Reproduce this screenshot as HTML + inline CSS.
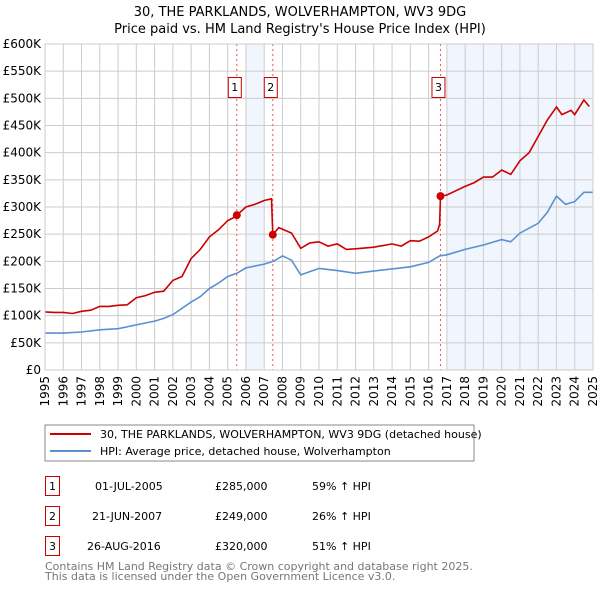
<!DOCTYPE html>
<html><head><meta charset="utf-8"><style>
body{margin:0;background:#fff;font-family:"DejaVu Sans","Liberation Sans",sans-serif;}
svg text{font-family:"DejaVu Sans","Liberation Sans",sans-serif;}
</style></head><body>
<svg id="c" width="600" height="590" viewBox="0 0 600 590" xmlns="http://www.w3.org/2000/svg">
<text x="300" y="16" text-anchor="middle" font-size="13">30, THE PARKLANDS, WOLVERHAMPTON, WV3 9DG</text>
<text x="300" y="33" text-anchor="middle" font-size="13">Price paid vs. HM Land Registry's House Price Index (HPI)</text>
<g id="plot"></g>
<g>
<rect x="45" y="425" width="429" height="36" fill="#fff" stroke="#888"/>
<line x1="50" y1="434" x2="91" y2="434" stroke="#cc0000" stroke-width="2"/>
<text x="100" y="438" font-size="11">30, THE PARKLANDS, WOLVERHAMPTON, WV3 9DG (detached house)</text>
<line x1="50" y1="451" x2="91" y2="451" stroke="#5b8fd4" stroke-width="2"/>
<text x="100" y="455" font-size="11">HPI: Average price, detached house, Wolverhampton</text>
</g>
<g font-size="11">
<rect x="45.5" y="476.5" width="14" height="19" fill="#fff" stroke="#cc0000"/><text x="52.5" y="490" text-anchor="middle">1</text>
<text x="95" y="490">01-JUL-2005</text><text x="215" y="490">£285,000</text><text x="312" y="490">59% ↑ HPI</text>
<rect x="45.5" y="506.5" width="14" height="19" fill="#fff" stroke="#cc0000"/><text x="52.5" y="520" text-anchor="middle">2</text>
<text x="92" y="520">21-JUN-2007</text><text x="215" y="520">£249,000</text><text x="312" y="520">26% ↑ HPI</text>
<rect x="45.5" y="536.5" width="14" height="19" fill="#fff" stroke="#cc0000"/><text x="52.5" y="550" text-anchor="middle">3</text>
<text x="87" y="550">26-AUG-2016</text><text x="215" y="550">£320,000</text><text x="312" y="550">51% ↑ HPI</text>
</g>
<text x="45" y="570" font-size="11" fill="#777">Contains HM Land Registry data © Crown copyright and database right 2025.</text>
<text x="45" y="580" font-size="11" fill="#777">This data is licensed under the Open Government Licence v3.0.</text>
</svg>
<script>
const redYears=[1995,1995.5,1996,1996.5,1997,1997.5,1998,1998.5,1999,1999.5,2000,2000.5,2001,2001.5,2002,2002.5,2003,2003.5,2004,2004.5,2005,2005.3,2005.5,2006,2006.5,2007,2007.4,2007.47,2007.8,2008.5,2009,2009.5,2010,2010.5,2011,2011.5,2012,2013,2014,2014.5,2015,2015.5,2016,2016.5,2016.6,2016.65,2017,2017.5,2018,2018.5,2019,2019.5,2020,2020.5,2021,2021.5,2022,2022.5,2023,2023.3,2023.8,2024,2024.5,2024.8];
const redValues=[107,106,106,104,108,110,117,117,119,120,133,137,143,145,165,172,205,222,245,258,275,280,285,300,305,312,315,249,262,252,224,234,236,228,232,222,223,226,232,228,238,237,245,256,268,320,322,330,338,345,355,355,368,360,385,400,430,460,484,470,478,470,497,485];
const hpiYears=[1995,1996,1997,1998,1999,2000,2001,2001.5,2002,2003,2003.5,2004,2004.5,2005,2005.5,2006,2007,2007.5,2008,2008.5,2009,2010,2011,2012,2013,2014,2015,2016,2016.6,2017,2018,2019,2020,2020.5,2021,2022,2022.5,2023,2023.5,2024,2024.5,2025];
const hpiValues=[68,68,70,74,76,83,90,95,102,125,135,150,160,172,178,188,195,200,210,202,175,187,183,178,182,186,190,198,210,212,222,230,240,236,252,270,290,320,305,310,327,327];
const saleYears=[2005.5,2007.47,2016.65];
const saleValues=[285,249,320];
const saleLabels=["1","2","3"];
const yTicks=[0,50,100,150,200,250,300,350,400,450,500,550,600];
const yTickLabels=["£0","£50K","£100K","£150K","£200K","£250K","£300K","£350K","£400K","£450K","£500K","£550K","£600K"];
const xTicks=[1995,1996,1997,1998,1999,2000,2001,2002,2003,2004,2005,2006,2007,2008,2009,2010,2011,2012,2013,2014,2015,2016,2017,2018,2019,2020,2021,2022,2023,2024,2025];
const shadeRanges=[[2006,2007],[2017,2025]];

const L=45,R=593,T=44,B=370;
const sx=y=>L+(y-1995)/30*(R-L);
const sy=v=>B-v/600*(B-T);
const NS="http://www.w3.org/2000/svg";
const g=document.getElementById('plot');
function mk(tag,attrs,parent){const e=document.createElementNS(NS,tag);for(const k in attrs)e.setAttribute(k,attrs[k]);(parent||g).appendChild(e);return e;}
for(const r of shadeRanges){
 const e=mk('rect',{x:sx(r[0]),y:T,width:sx(r[1])-sx(r[0]),height:B-T,fill:'#eef3fc',opacity:0.8});
 
 
}
yTicks.forEach((v,i)=>{
 const l=mk('line',{x1:L,x2:R,y1:sy(v),y2:sy(v),stroke:'#ccc'});
 
 
 const t=mk('text',{x:L-4,y:sy(v)+4,'text-anchor':'end','font-size':12});
 t.textContent=yTickLabels[i];
 
 
});
xTicks.forEach(y=>{
 const l=mk('line',{x1:sx(y),x2:sx(y),y1:T,y2:B,stroke:'#ccc'});
 
 
 const t=mk('text',{x:0,y:0,'font-size':12,'text-anchor':'end',transform:`translate(${sx(y)+4},${B+6}) rotate(-90)`});
 t.textContent=y;
 
 
});
saleYears.forEach((y,i)=>{
 const l=mk('line',{x1:sx(y),x2:sx(y),y1:T,y2:B,stroke:'#e55','stroke-dasharray':'2,3'});
 
 
});
function path(xs,vs,color,name){
 const d=xs.map((x,i)=>(i?'L':'M')+sx(x).toFixed(1)+','+sy(vs[i]).toFixed(1)).join('');
 const p=mk('path',{d,fill:'none',stroke:color,'stroke-width':1.6});
 
 
}
path(hpiYears,hpiValues,'#5b8fd4','hpi-line');
path(redYears,redValues,'#cc0000','property-price-line');
saleYears.forEach((y,i)=>{
 const c=mk('circle',{cx:sx(y),cy:sy(saleValues[i]),r:4,fill:'#cc0000'});
 
 
 const bx=sx(y)-9;
 const r=mk('rect',{x:bx+0.5,y:77.5,width:13,height:20,fill:'#fff',stroke:'#cc0000'});
 
 
 const t=mk('text',{x:bx+7,y:91,'text-anchor':'middle','font-size':11});
 t.textContent=saleLabels[i];
 
 
});
const ax=mk('rect',{x:L,y:T,width:R-L,height:B-T,fill:'none',stroke:'#ccc'});


</script>
</body></html>
